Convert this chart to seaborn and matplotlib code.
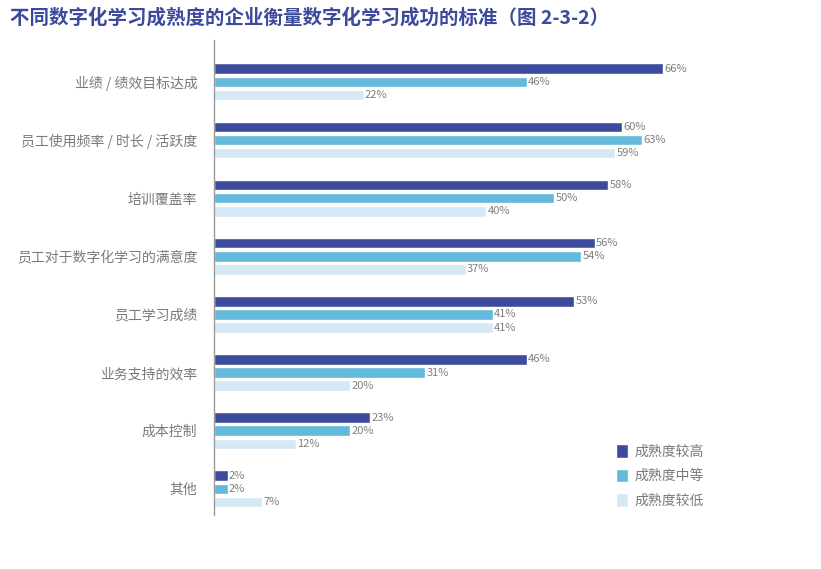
import pandas as pd
import numpy as np
import matplotlib.pyplot as plt
import seaborn as sns

# data
kategori = [
    "业绩 / 绩效目标达成",
    "员工使用频率 / 时长 / 活跃度",
    "培训覆盖率",
    "员工对于数字化学习的满意度",
    "员工学习成绩",
    "业务支持的效率",
    "成本控制",
    "其他",
]
seri = ["成熟度较高", "成熟度中等", "成熟度较低"]
tinggi = [66, 60, 58, 56, 53, 46, 23, 2]
sedang = [46, 63, 50, 54, 41, 31, 20, 2]
rendah = [22, 59, 40, 37, 41, 20, 12, 7]
warna = ["#3d4b9c", "#62b9da", "#d5e8f6"]

df = pd.DataFrame({
    "kategori": kategori * 3,
    "seri": [seri[0]] * 8 + [seri[1]] * 8 + [seri[2]] * 8,
    "nilai": tinggi + sedang + rendah,
})

sns.set_theme(style="white")
plt.rcParams['font.family'] = ['Noto Sans CJK SC', 'DejaVu Sans']

fig = plt.figure(figsize=(8.21, 5.69), dpi=100)
ax = fig.add_axes([214 / 821, 1 - 515 / 569, (805 - 214) / 821, 475 / 569])

sns.barplot(
    data=df, y="kategori", x="nilai", hue="seri",
    palette=warna, orient="h", width=0.68, gap=0.2,
    ax=ax, legend=True, saturation=1
)

for cont in ax.containers:
    ax.bar_label(
        cont,
        labels=[f"{v:.0f}%" for v in cont.datavalues],
        padding=1, fontsize=8, color="#7f7f7f"
    )

ax.set_xlim(0, (805 - 214) / 6.8)
ax.set_ylim(7 + 0.45, -0.72)
ax.set_xlabel("")
ax.set_ylabel("")
ax.set_xticks([])
ax.tick_params(axis="y", length=0, pad=12, labelsize=10, labelcolor="#7a7a7a")
for s in ["top", "right", "bottom"]:
    ax.spines[s].set_visible(False)
ax.spines["left"].set_color("#9a9a9a")
ax.spines["left"].set_linewidth(1)

ax.legend(
    loc="upper left", bbox_to_anchor=(609 / 821, 1 - 437 / 569),
    bbox_transform=fig.transFigure, frameon=False,
    fontsize=10, labelcolor="#7a7a7a",
    handlelength=0.85, handleheight=1.15, handletextpad=0.5,
    labelspacing=0.72, borderpad=0
)

fig.text(10 / 821, 1 - 18 / 569, "不同数字化学习成熟度的企业衡量数字化学习成功的标准（图 2-3-2）",
         fontsize=14, fontweight="bold", color="#3b4a9a", va="center", ha="left")

plt.savefig("out.png", dpi=100)
